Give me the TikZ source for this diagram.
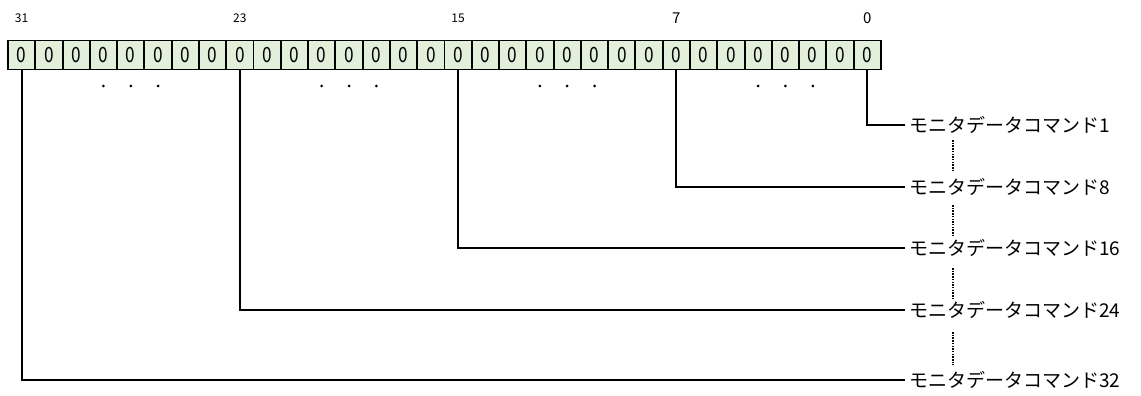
\documentclass[tikz,border=0pt]{standalone}
\usepackage{fontspec}
\setmainfont{Noto Sans CJK JP}
\newfontfamily\cellfont[FakeStretch=0.82]{Noto Sans CJK JP}
\definecolor{cellfill}{HTML}{E2EFDA}
\begin{document}
\begin{tikzpicture}[x=1pt,y=-1pt,
  cell/.style={draw, fill=cellfill, line width=1.9pt, minimum width=27.28pt, minimum height=29pt, inner sep=0pt, font=\cellfont\fontsize{21}{21}\selectfont},
  bitnum/.style={font=\fontsize{12}{12}\selectfont, inner sep=0pt},
  bitnumb/.style={font=\fontsize{15}{15}\selectfont, inner sep=0pt},
  lbl/.style={anchor=west, inner sep=0pt, font=\fontsize{19}{19}\selectfont},
  conn/.style={line width=1.9pt},
  vdots/.style={line width=1.8pt, dash pattern=on 1.5pt off 1.2pt},
  dot/.style={circle, fill=black, inner sep=0pt, minimum size=3pt}]
\useasboundingbox (0,0) rectangle (1141,396);
\foreach \i in {0,...,31}{
  \node[cell] (b\i) at ({8+27.28*(31-\i)+13.64},55) {0};
}
\node[bitnum] (n31) at (b31 |- 0,18) {31};
\node[bitnum] (n23) at (b23 |- 0,18) {23};
\node[bitnum] (n15) at (b15 |- 0,18) {15};
\node[bitnumb] (n7) at (b7 |- 0,18) {7};
\node[bitnumb] (n0) at (b0 |- 0,18) {0};
\foreach \g in {28,20,12,4}{
  \pgfmathtruncatemacro{\ga}{\g}
  \pgfmathtruncatemacro{\gb}{\g-1}
  \pgfmathtruncatemacro{\gc}{\g-2}
  \node[dot] (d\ga) at (b\ga |- 0,86) {};
  \node[dot] (d\gb) at (b\gb |- 0,86) {};
  \node[dot] (d\gc) at (b\gc |- 0,86) {};
}
\node[lbl] (l1) at (909,125) {モニタデータコマンド1};
\node[lbl] (l8) at (909,187) {モニタデータコマンド8};
\node[lbl] (l16) at (909,248) {モニタデータコマンド16};
\node[lbl] (l24) at (909,310) {モニタデータコマンド24};
\node[lbl] (l32) at (909,380) {モニタデータコマンド32};
\draw[conn] (b0.south) |- ([xshift=-4pt]l1.west);
\draw[conn] (b7.south) |- ([xshift=-4pt]l8.west);
\draw[conn] (b15.south) |- ([xshift=-4pt]l16.west);
\draw[conn] (b23.south) |- ([xshift=-4pt]l24.west);
\draw[conn] (b31.south) |- ([xshift=-4pt]l32.west);
\draw[vdots] (953,140) -- (953,172);
\draw[vdots] (953,205) -- (953,237);
\draw[vdots] (953,268) -- (953,300);
\draw[vdots] (953,332) -- (953,365);
\end{tikzpicture}
\end{document}
